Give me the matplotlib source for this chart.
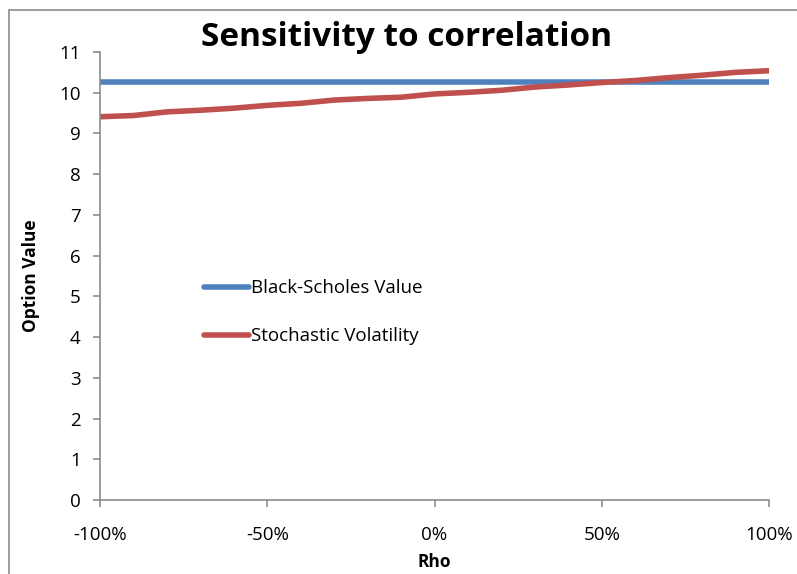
import matplotlib
matplotlib.use("Agg")
import matplotlib.pyplot as plt
from matplotlib.patches import Rectangle
from matplotlib.ticker import FuncFormatter

plt.rcParams['font.family'] = ['Open Sans', 'DejaVu Sans']

rho = [-1.0, -0.9, -0.8, -0.7, -0.6, -0.5, -0.4, -0.3, -0.2, -0.1, 0.0,
       0.1, 0.2, 0.3, 0.4, 0.5, 0.6, 0.7, 0.8, 0.9, 1.0]
bs_value = [10.26] * len(rho)
sv_value = [9.41, 9.44, 9.53, 9.57, 9.62, 9.69, 9.74, 9.82, 9.86, 9.89, 9.97,
            10.01, 10.06, 10.14, 10.19, 10.25, 10.30, 10.37, 10.43, 10.50, 10.54]
x_ticks = [-1.0, -0.5, 0.0, 0.5, 1.0]
y_ticks = list(range(0, 12))

W, H = 797, 574
fig = plt.figure(figsize=(W / 100, H / 100), dpi=100)
ax = fig.add_axes([100 / W, 1 - 500 / H, (769 - 100) / W, (500 - 52) / H])

ax.plot(rho, bs_value, color='#4F81BD', lw=4, solid_capstyle='round', label='Black-Scholes Value')
ax.plot(rho, sv_value, color='#C0504D', lw=4, solid_capstyle='round', label='Stochastic Volatility')

ax.set_xlim(-1, 1)
ax.set_ylim(0, 11)
ax.set_xticks(x_ticks)
ax.set_yticks(y_ticks)
ax.xaxis.set_major_formatter(FuncFormatter(lambda v, p: f"{v*100:.0f}%"))
for s in ['top', 'right']:
    ax.spines[s].set_visible(False)
for s in ['left', 'bottom']:
    ax.spines[s].set_color('#8C8C8C')
    ax.spines[s].set_linewidth(1.2)
ax.tick_params(axis='both', colors='#8C8C8C', length=5, width=1.2, labelcolor='black', labelsize=13.5)
ax.tick_params(axis='x', pad=14)
ax.tick_params(axis='y', pad=9)
ax.set_xlabel('Rho', fontsize=12.5, fontweight='bold', labelpad=6)
ax.set_ylabel('Option Value', fontsize=12.5, fontweight='bold', labelpad=14)

fig.text(407 / W, 1 - 38 / H, 'Sensitivity to correlation', fontsize=24, fontweight='bold',
         ha='center', va='center')

leg = ax.legend(loc='upper left', bbox_to_anchor=(0.13, 0.53), frameon=False, fontsize=13.5,
                handlelength=2.4, handletextpad=0.1, labelspacing=1.6)

fig.patches.append(Rectangle((9 / W, -0.05), 1.2, 1 - 10 / H + 0.05, transform=fig.transFigure,
                             fill=False, edgecolor='#8C8C8C', lw=1.2))

fig.savefig('out.png', dpi=100)
